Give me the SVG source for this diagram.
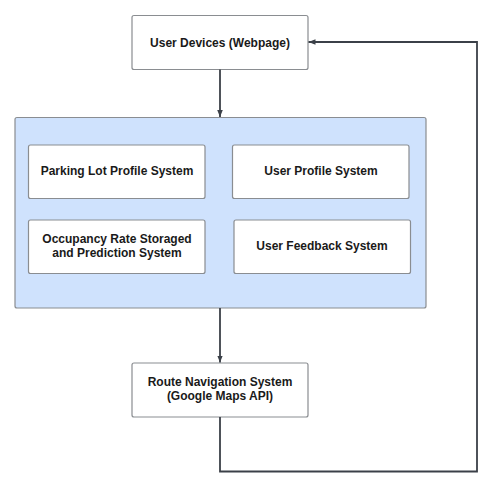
<svg xmlns="http://www.w3.org/2000/svg" width="493" height="488" viewBox="0 0 493 488">
<style>
.box{fill:#fff;stroke:#8a8d91;stroke-width:1.2}
.group{fill:#cfe2fd;stroke:#8a8d91;stroke-width:1.2}
.lbl{font-family:"Liberation Sans",Arial,sans-serif;font-weight:bold;font-size:12px;fill:#1a1a1a;text-anchor:middle}
.conn{fill:none;stroke:#3b4048;stroke-width:1.8}
</style>
<defs>
<marker id="ah" markerWidth="8" markerHeight="8" refX="7" refY="4" orient="auto" markerUnits="userSpaceOnUse">
<path d="M0,1.2 L7,4 L0,6.8 Z" fill="#3b4048"/>
</marker>
</defs>
<rect width="493" height="488" fill="#fff"/>
<g id="container">
<rect class="group" x="15" y="117.5" width="411" height="190.5" rx="2"/>
</g>
<g id="user-devices">
<rect class="box" x="132" y="15.5" width="176" height="54" rx="2"/>
<text class="lbl" x="220" y="46.5">User Devices (Webpage)</text>
</g>
<g id="parking-lot">
<rect class="box" x="28.5" y="145" width="176.5" height="53.5" rx="2"/>
<text class="lbl" x="117" y="175">Parking Lot Profile System</text>
</g>
<g id="user-profile">
<rect class="box" x="232.5" y="145" width="176.5" height="53.5" rx="2"/>
<text class="lbl" x="321" y="175">User Profile System</text>
</g>
<g id="occupancy">
<rect class="box" x="28.5" y="220" width="176.5" height="53.5" rx="2"/>
<text class="lbl" x="117" y="242.5">Occupancy Rate Storaged</text>
<text class="lbl" x="117" y="257">and Prediction System</text>
</g>
<g id="user-feedback">
<rect class="box" x="234" y="220" width="176.5" height="53.5" rx="2"/>
<text class="lbl" x="322" y="249.5">User Feedback System</text>
</g>
<g id="route-navigation">
<rect class="box" x="132" y="363" width="176" height="54" rx="2"/>
<text class="lbl" x="220" y="385.5">Route Navigation System</text>
<text class="lbl" x="220" y="400">(Google Maps API)</text>
</g>
<g id="connectors">
<path class="conn" d="M220,69.5 L220,117" marker-end="url(#ah)"/>
<path class="conn" d="M220,308 L220,362.5" marker-end="url(#ah)"/>
<path class="conn" d="M220,417 L220,471.5 L477,471.5 L477,42 L308.5,42" marker-end="url(#ah)"/>
</g>
</svg>
